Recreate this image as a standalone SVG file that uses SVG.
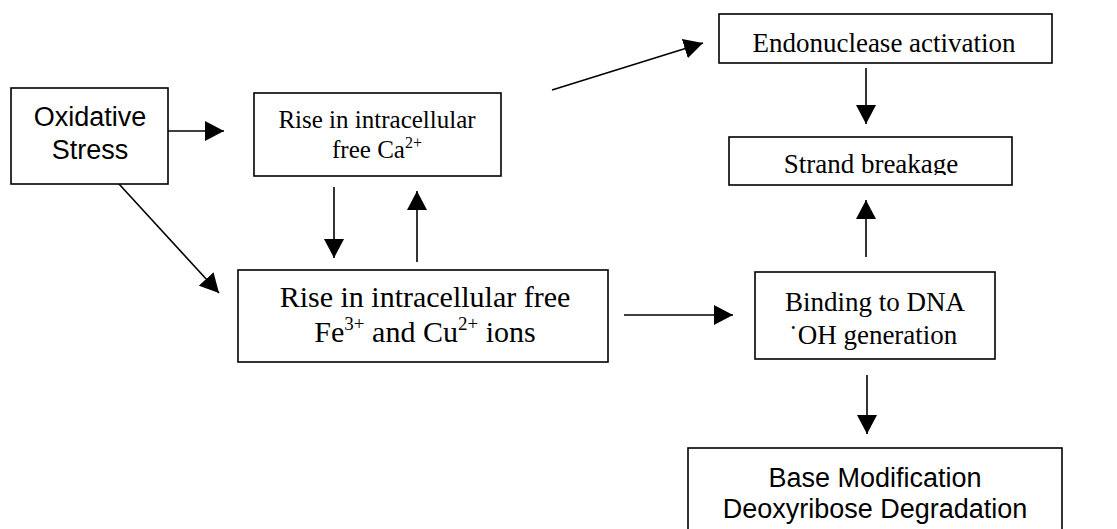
<svg xmlns="http://www.w3.org/2000/svg" width="1117" height="529" viewBox="0 0 1117 529">
<style>
.box{fill:#fff;stroke:#000;stroke-width:1.6}
.ln{fill:none;stroke:#000;stroke-width:1.6;marker-end:url(#ah)}
.serif{font-family:"Liberation Serif","Times New Roman",serif;font-size:27px;fill:#000;text-anchor:middle}
.sans{font-family:"Liberation Sans",Arial,sans-serif;font-size:27px;fill:#000;text-anchor:middle}
</style>
<defs>
<marker id="ah" markerUnits="userSpaceOnUse" markerWidth="19" markerHeight="20" refX="19" refY="10" orient="auto" viewBox="0 0 19 20">
<path d="M0,0 L19,10 L0,20 z" fill="#000"/>
</marker>
<clipPath id="clipStrand"><rect x="729" y="137" width="283" height="38"/></clipPath>
</defs>
<rect width="1117" height="529" fill="#fff"/>

<g id="connectors">
<line class="ln" x1="157" y1="131" x2="224" y2="131"/>
<line class="ln" x1="108" y1="172" x2="219" y2="293"/>
<line class="ln" x1="334" y1="187" x2="334" y2="258"/>
<line class="ln" x1="417" y1="262" x2="417" y2="191"/>
<line class="ln" x1="552" y1="90" x2="703" y2="43"/>
<line class="ln" x1="866" y1="68" x2="866" y2="124"/>
<line class="ln" x1="624" y1="315" x2="733" y2="315"/>
<line class="ln" x1="866" y1="257" x2="866" y2="200"/>
<line class="ln" x1="867" y1="375" x2="867" y2="434"/>
</g>

<g id="oxidative">
<rect class="box" x="11" y="88" width="157" height="96"/>
<text class="sans" x="90" y="126">Oxidative</text>
<text class="sans" x="90" y="159">Stress</text>
</g>

<g id="calcium">
<rect class="box" x="254" y="93" width="247" height="83"/>
<text class="serif" style="font-size:25px" x="377" y="128">Rise in intracellular</text>
<text class="serif" style="font-size:25px" x="377" y="158">free Ca<tspan dy="-10" font-size="16">2+</tspan></text>
</g>

<g id="metals">
<rect class="box" x="238" y="270" width="370" height="92"/>
<text class="serif" style="font-size:30px" x="425" y="307">Rise in intracellular free</text>
<text class="serif" style="font-size:30px" x="425" y="342">Fe<tspan dy="-12" font-size="19">3+</tspan><tspan dy="12"> and Cu</tspan><tspan dy="-12" font-size="19">2+</tspan><tspan dy="12"> ions</tspan></text>
</g>

<g id="endonuclease">
<rect class="box" x="719" y="14" width="333" height="49"/>
<text class="serif" x="884" y="52">Endonuclease activation</text>
</g>

<g id="strand">
<rect class="box" x="729" y="137" width="283" height="48"/>
<text class="serif" x="871" y="173" clip-path="url(#clipStrand)">Strand breakage</text>
</g>

<g id="binding">
<rect class="box" x="755" y="272" width="240" height="87"/>
<text class="serif" x="875" y="311">Binding to DNA</text>
<text class="serif" x="873" y="344">˙OH generation</text>
</g>

<g id="damage">
<rect class="box" x="688" y="448" width="374" height="100"/>
<text class="sans" x="875" y="487">Base Modification</text>
<text class="sans" x="875" y="518">Deoxyribose Degradation</text>
</g>
</svg>
